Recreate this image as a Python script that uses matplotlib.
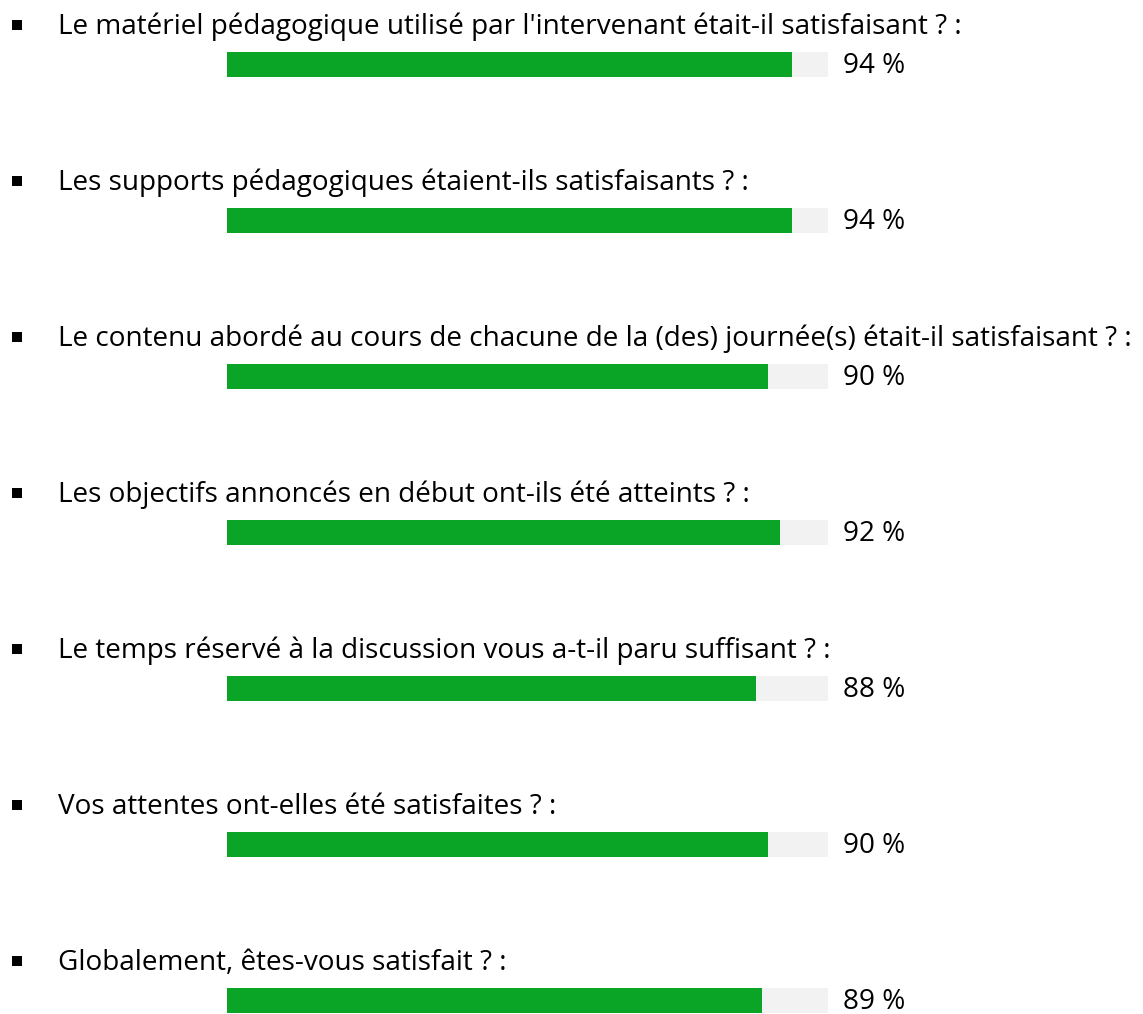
import matplotlib
matplotlib.use("Agg")
import matplotlib.pyplot as plt
import matplotlib.transforms as mtransforms

questions = [
    "Le matériel pédagogique utilisé par l'intervenant était-il satisfaisant ? :",
    "Les supports pédagogiques étaient-ils satisfaisants ? :",
    "Le contenu abordé au cours de chacune de la (des) journée(s) était-il satisfaisant ? :",
    "Les objectifs annoncés en début ont-ils été atteints ? :",
    "Le temps réservé à la discussion vous a-t-il paru suffisant ? :",
    "Vos attentes ont-elles été satisfaites ? :",
    "Globalement, êtes-vous satisfait ? :",
]
values = [94, 94, 90, 92, 88, 90, 89]
labels = ["94 %", "94 %", "90 %", "92 %", "88 %", "90 %", "89 %"]

W, H = 1143, 1014
DPI = 100
FONT = "Open Sans"
FS = 20.1
GREEN = "#0AA527"
TRACK = "#F2F2F2"

fig = plt.figure(figsize=(W / DPI, H / DPI), dpi=DPI)
fig.patch.set_facecolor("white")

# axes spanning the bar track horizontally, full height vertically
x0, x1 = 227 / W, 828 / W
ax = fig.add_axes([x0, 0, x1 - x0, 1])
ax.set_xlim(0, 100)
first_c, step = 64.5, 156.0
ax.set_ylim((H - first_c) / step, -first_c / step)
ax.axis("off")

idx = list(range(len(values)))
bh = 25 / step
ax.barh(idx, [100] * len(values), height=bh, color=TRACK, linewidth=0)
ax.barh(idx, values, height=bh, color=GREEN, linewidth=0)

# figure-x (pixels) / data-y transform
px = mtransforms.blended_transform_factory(
    mtransforms.Affine2D().scale(1 / W, 1) + fig.transFigure, ax.transData)

for i, (q, lab) in enumerate(zip(questions, labels)):
    ty = i - 37.5 / step
    ax.plot([17], [i - 39.5 / step], marker="s", markersize=7.2, color="black",
            markeredgewidth=0, transform=px, clip_on=False)
    ax.text(58, ty, q, transform=px, fontsize=FS, family=FONT,
            va="center", ha="left", color="black")
    ax.text(843, i + 1.5 / step, lab, transform=px, fontsize=FS,
            family=FONT, va="center", ha="left", color="black")

fig.savefig("out.png", dpi=DPI, facecolor="white")
